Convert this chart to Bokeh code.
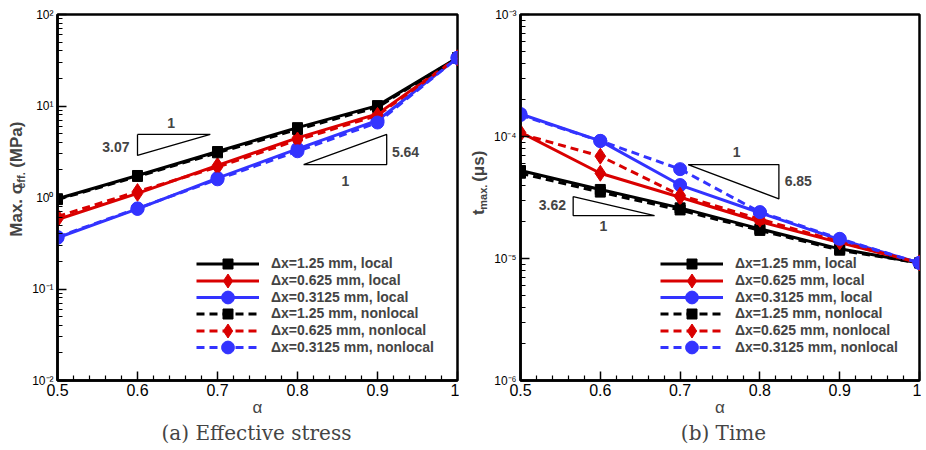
import math
from bokeh.plotting import figure
from bokeh.models import (Range1d, FixedTicker, CustomJSTickFormatter, Label,
                          Legend, LegendItem)
from bokeh.layouts import row, column
from bokeh.embed import file_html
from bokeh.resources import INLINE

# ---------------- data ----------------
alpha = [0.5, 0.6, 0.7, 0.8, 0.9, 1.0]
x_ticks = [0.5, 0.6, 0.7, 0.8, 0.9, 1.0]
x_tick_labels = ["0.5", "0.6", "0.7", "0.8", "0.9", "1"]
x_minor_ticks = [0.52, 0.54, 0.56, 0.58, 0.62, 0.64, 0.66, 0.68, 0.72, 0.74, 0.76, 0.78,
                 0.82, 0.84, 0.86, 0.88, 0.92, 0.94, 0.96, 0.98]

stress_ticks = [1e-2, 1e-1, 1e0, 1e1, 1e2]
time_ticks = [1e-6, 1e-5, 1e-4, 1e-3]

series_labels = ["Δx=1.25 mm, local", "Δx=0.625 mm, local", "Δx=0.3125 mm, local",
                 "Δx=1.25 mm, nonlocal", "Δx=0.625 mm, nonlocal", "Δx=0.3125 mm, nonlocal"]

stress_125_local = [0.97, 1.74, 3.18, 5.8, 10.1, 33.6]
stress_0625_local = [0.575, 1.11, 2.24, 4.49, 8.2, 33.6]
stress_03125_local = [0.363, 0.75, 1.63, 3.4, 6.95, 33.6]
stress_125_nonlocal = [0.95, 1.70, 3.08, 5.55, 9.7, 33.6]
stress_0625_nonlocal = [0.62, 1.16, 2.15, 4.25, 7.9, 33.6]
stress_03125_nonlocal = [0.37, 0.76, 1.58, 3.2, 6.6, 33.6]

time_125_local = [5.26e-5, 3.68e-5, 2.6e-5, 1.75e-5, 1.2e-5, 9.2e-6]
time_0625_local = [1.08e-4, 5.0e-5, 3.18e-5, 2.0e-5, 1.35e-5, 9.2e-6]
time_03125_local = [1.53e-4, 9.2e-5, 4.0e-5, 2.37e-5, 1.43e-5, 9.2e-6]
time_125_nonlocal = [5.0e-5, 3.5e-5, 2.5e-5, 1.7e-5, 1.17e-5, 9.2e-6]
time_0625_nonlocal = [1.05e-4, 6.9e-5, 3.3e-5, 2.1e-5, 1.37e-5, 9.2e-6]
time_03125_nonlocal = [1.5e-4, 9.2e-5, 5.4e-5, 2.4e-5, 1.45e-5, 9.2e-6]

# slope triangles (data coordinates) and their labels
stress_tri1_x = [0.6, 0.691, 0.6, 0.6]
stress_tri1_y = [4.89, 4.89, 2.88, 4.89]
stress_tri2_x = [0.8076, 0.9115, 0.9115, 0.8076]
stress_tri2_y = [2.29, 4.89, 2.29, 2.29]
stress_notes = [("1", 0.642, 6.6, "center"), ("3.07", 0.59, 3.6, "right"),
                ("5.64", 0.918, 3.18, "left"), ("1", 0.860, 1.53, "center")]

time_tri1_x = [0.710, 0.8238, 0.8238, 0.710]
time_tri1_y = [5.89e-5, 5.89e-5, 3.08e-5, 5.89e-5]
time_tri2_x = [0.566, 0.566, 0.668, 0.566]
time_tri2_y = [3.22e-5, 2.25e-5, 2.25e-5, 3.22e-5]
time_notes = [("1", 0.771, 7.4e-5, "center"), ("6.85", 0.831, 4.28e-5, "left"),
              ("3.62", 0.557, 2.72e-5, "right"), ("1", 0.604, 1.86e-5, "center")]

captions = ["(a) Effective stress", "(b) Time"]

# ---------------- styles / layout ----------------
COLORS = ["black", "#d90000", "#3333ff"]
MARKERS = ["square", "diamond", "circle"]
SIZES = [10, 16, 13]
LEG_H = [25, 35, 32]
SANS = "Liberation Sans"
H = 420          # height of the plot row
CAP_H = 26       # height of the caption strip
TOTAL_W = 921

SUP = """
const sup = {"-":"\u207b","0":"\u2070","1":"\u00b9","2":"\u00b2","3":"\u00b3","4":"\u2074",
             "5":"\u2075","6":"\u2076","7":"\u2077","8":"\u2078","9":"\u2079"};
const e = Math.round(Math.log10(tick));
return "10" + String(e).split("").map(c => sup[c]).join("");
"""


def minor_log(lo, hi):
    out = []
    for e in range(lo, hi):
        for m in range(2, 10):
            out.append(m * 10.0 ** e)
    return out


def blank(width, height):
    s = figure(width=width, height=height, x_range=Range1d(0, width), y_range=Range1d(0, height),
               output_backend="svg", toolbar_location=None,
               x_axis_location=None, y_axis_location=None,
               min_border_left=0, min_border_right=0, min_border_top=0, min_border_bottom=0)
    s.xgrid.visible = False
    s.ygrid.visible = False
    s.outline_line_color = None
    return s


def label_strip(width, parts, x0, y0):
    """narrow figure holding the rotated y-axis title (with a subscript)."""
    s = blank(width, H)
    y = y0
    for txt, size, shift, w in parts:
        s.add_layout(Label(x=x0 + shift, y=y, text=txt, angle=math.pi / 2,
                           text_align="left", text_baseline="middle", text_font=SANS,
                           text_font_style="bold", text_font_size=size))
        y += w
    return s


def make_panel(series, yr, yticks, ylo, yhi, width, left_border, right_border,
               tri, notes, legend_x):
    p = figure(width=width, height=H, x_range=Range1d(0.5, 1.0), y_range=Range1d(*yr),
               y_axis_type="log", output_backend="svg", toolbar_location=None,
               min_border_left=left_border, min_border_right=right_border,
               min_border_top=14, min_border_bottom=40)
    p.xgrid.visible = False
    p.ygrid.visible = False
    p.outline_line_color = "black"
    p.outline_line_width = 2.5
    p.outline_line_alpha = 1.0

    for ax in (p.xaxis[0], p.yaxis[0]):
        ax.axis_line_width = 2.5
        ax.major_tick_in = 9
        ax.major_tick_out = 0
        ax.minor_tick_in = 5
        ax.minor_tick_out = 0
        ax.major_tick_line_width = 1.5
        ax.minor_tick_line_width = 1.2
        ax.major_label_text_font = SANS
        ax.major_label_text_color = "black"
    p.xaxis.ticker = FixedTicker(ticks=x_ticks, minor_ticks=x_minor_ticks)
    p.xaxis.major_label_overrides = {t: l for t, l in zip(x_ticks, x_tick_labels)}
    p.xaxis.major_label_text_font_size = "16px"
    p.xaxis.major_label_standoff = 3
    p.xaxis.axis_label = "α"
    p.xaxis.axis_label_text_font = SANS
    p.xaxis.axis_label_text_font_style = "normal"
    p.xaxis.axis_label_text_font_size = "17px"
    p.xaxis.axis_label_standoff = -1

    p.yaxis.ticker = FixedTicker(ticks=yticks, minor_ticks=minor_log(ylo, yhi))
    p.yaxis.formatter = CustomJSTickFormatter(code=SUP)
    p.yaxis.major_label_text_font_size = "12px"
    p.yaxis.major_label_standoff = 4

    for i, ys in enumerate(series):
        c = COLORS[i % 3]
        dash = "solid" if i < 3 else "8 5"
        ln = p.line(alpha, ys, line_color=c, line_width=3, line_dash=dash)
        sc = p.scatter(alpha, ys, marker=MARKERS[i % 3], size=SIZES[i % 3],
                       fill_color=c, line_color=c)
        lg = Legend(items=[LegendItem(label=series_labels[i], renderers=[ln, sc])],
                    location=(legend_x, legend_rows[i] - LEG_H[i % 3] / 2),
                    glyph_width=63, glyph_height=LEG_H[i % 3], label_height=14,
                    label_standoff=12, padding=0, margin=0, spacing=0,
                    border_line_alpha=0, background_fill_alpha=0,
                    label_text_font=SANS, label_text_font_style="bold",
                    label_text_font_size="14px")
        p.add_layout(lg)

    for tx, ty in tri:
        p.line(tx, ty, line_color="black", line_width=1.3)
    for txt, nx, ny, al in notes:
        p.add_layout(Label(x=nx, y=ny, text=txt, text_align=al, text_baseline="middle",
                           text_font=SANS, text_font_style="bold", text_font_size="14px"))
    return p


legend_rows = [116.7, 100.0, 83.3, 66.7, 50.0, 33.3]

s1 = label_strip(29, [("Max. σ", "17px", 0, 55), ("eff.", "11px", 4, 24), ("(MPa)", "17px", 0, 0)],
                 16, 165)
p1 = make_panel([stress_125_local, stress_0625_local, stress_03125_local,
                 stress_125_nonlocal, stress_0625_nonlocal, stress_03125_nonlocal],
                (1e-2, 1e2), stress_ticks, -2, 2, 430, 27, 2,
                [(stress_tri1_x, stress_tri1_y), (stress_tri2_x, stress_tri2_y)],
                stress_notes, 139)

s2 = label_strip(31, [("t", "17px", 0, 6), ("max.", "11px", 4, 32), ("(μs)", "17px", 0, 0)],
                 19, 190)
p2 = make_panel([time_125_local, time_0625_local, time_03125_local,
                 time_125_nonlocal, time_0625_nonlocal, time_03125_nonlocal],
                (1e-6, 1e-3), time_ticks, -6, -3, 431, 27, 2,
                [(time_tri1_x, time_tri1_y), (time_tri2_x, time_tri2_y)],
                time_notes, 140)

cap = blank(TOTAL_W, CAP_H)
for txt, cx in zip(captions, [256, 723]):
    cap.add_layout(Label(x=cx, y=14, text=txt, text_align="center", text_baseline="middle",
                         text_font="DejaVu Serif", text_font_size="20px"))

layout = column(row(s1, p1, s2, p2), cap)
open("out.html", "w").write(file_html(layout, INLINE))
